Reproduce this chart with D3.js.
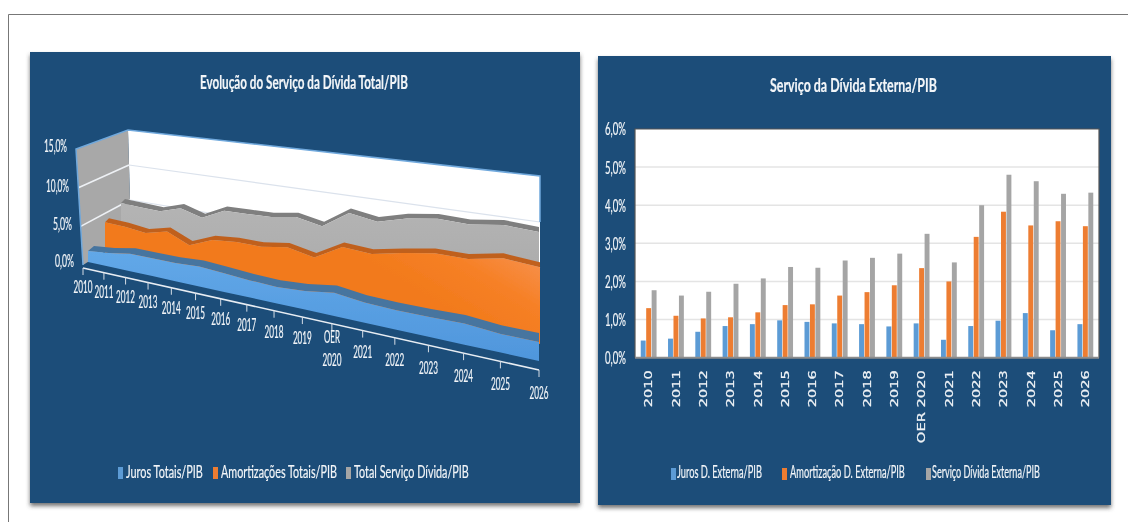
<!DOCTYPE html>
<html lang="pt">
<head>
<meta charset="utf-8">
<script src="https://cdn.jsdelivr.net/npm/d3@7/dist/d3.min.js"></script>
<style>
html,body{margin:0;padding:0;background:#fff;overflow:hidden}
svg{display:block}
text{font-family:Lato,"Open Sans",sans-serif;fill:#f2f5f8}
</style>
</head>
<body>
<svg id="chart" width="1128" height="522"></svg>
<script>
// ---------- data ----------
const years = ["2010","2011","2012","2013","2014","2015","2016","2017","2018","2019","OER 2020","2021","2022","2023","2024","2025","2026"];

const titleTotal = "Evolução do Serviço da Dívida Total/PIB";
const seriesTotalNames = ["Juros Totais/PIB","Amortizações Totais/PIB","Total Serviço Dívida/PIB"];
const jurosTotais = [1.4,1.7,2.2,2.2,2.2,2.4,2.2,2.0,1.9,2.1,2.6,2.2,2.1,2.1,2.2,1.9,1.9];
const amortTotais = [4.1,4.0,3.7,4.4,3.2,4.4,4.7,4.7,5.2,4.6,6.4,6.2,6.9,7.5,7.5,8.2,7.9];
const servicoTotal = [5.4,5.3,5.2,6.1,5.3,6.7,6.8,6.9,7.4,6.8,8.9,8.4,9.3,9.8,9.7,10.2,10.0];
const ticksTotal = [0,5,10,15];

const titleExterna = "Serviço da Dívida Externa/PIB";
const seriesExternaNames = ["Juros D. Externa/PIB","Amortização D. Externa/PIB","Serviço Dívida Externa/PIB"];
const jurosExterna = [0.45,0.5,0.68,0.83,0.88,0.98,0.94,0.9,0.88,0.82,0.9,0.47,0.83,0.97,1.17,0.72,0.88];
const amortExterna = [1.3,1.1,1.03,1.06,1.19,1.38,1.4,1.63,1.72,1.9,2.35,2.0,3.17,3.83,3.47,3.58,3.45];
const servicoExterna = [1.77,1.63,1.73,1.94,2.08,2.38,2.36,2.55,2.62,2.73,3.25,2.5,4.0,4.8,4.63,4.3,4.33];
const ticksExterna = [0,1,2,3,4,5,6];

// ---------- setup ----------
const fmt = v => d3.format(".1f")(v).replace(".", ",") + "%";
const svg = d3.select("#chart");
const defs = svg.append("defs");
const f1 = defs.append("filter").attr("id","soft").attr("x","-5%").attr("y","-5%").attr("width","110%").attr("height","110%");
f1.append("feGaussianBlur").attr("stdDeviation",0.5);
const f2 = defs.append("filter").attr("id","shadow").attr("x","-3%").attr("y","-3%").attr("width","106%").attr("height","108%");
f2.append("feDropShadow").attr("dx",0).attr("dy",3).attr("stdDeviation",2).attr("flood-color","#444").attr("flood-opacity",0.75);
function grad(id, a, b){
  const g = defs.append("linearGradient").attr("id",id).attr("x1",0).attr("x2",0).attr("y1",0).attr("y2",1);
  g.append("stop").attr("offset","0%").attr("stop-color",a);
  g.append("stop").attr("offset","100%").attr("stop-color",b);
}
grad("gBlue","#62a8e8","#4f96dc");
grad("gGray","#b4b4b4","#a6a6a6");
const go = defs.append("linearGradient").attr("id","gOrange").attr("gradientUnits","userSpaceOnUse")
  .attr("x1",560).attr("y1",240).attr("x2",500).attr("y2",340);
go.append("stop").attr("offset","0%").attr("stop-color","#f79a63");
go.append("stop").attr("offset","60%").attr("stop-color","#f68026");
go.append("stop").attr("offset","100%").attr("stop-color","#f27a1c");

const root = svg.append("g").attr("filter","url(#soft)");
const PANEL = "#1f4e79";

root.append("path").attr("d","M8.5,522V14.5H1128").attr("fill","none").attr("stroke","#777").attr("stroke-width",1);
root.append("rect").attr("x",30).attr("y",52).attr("width",550).attr("height",451).attr("fill",PANEL).attr("filter","url(#shadow)");
root.append("rect").attr("x",598).attr("y",56).attr("width",513).attr("height",449).attr("fill",PANEL).attr("filter","url(#shadow)");

function squeeze(node, width){
  return width / node.getComputedTextLength();
}
function label(g, str, x, y, width, size, opts={}){
  const t = g.append("text").attr("font-size",size)
    .attr("text-anchor",opts.anchor||"start").attr("dominant-baseline","middle")
    .attr("font-weight",opts.weight||"normal")
    .attr("stroke","#f2f5f8").attr("stroke-width",opts.stroke||0.2).text(str);
  t.attr("transform",`translate(${x},${y}) scale(${squeeze(t.node(),width)},1)`);
  return t;
}

// ---------- left chart: perspective area chart ----------
const L = root.append("g");
label(L, titleTotal, 200, 84, 208, 19, {weight:"bold"});

const pers = 1.387;
const persp = i => { const u = i/(years.length-1); return u/(u + pers*(1-u)); };
const lerp = (r, f) => d3.scaleLinear().domain([0,1]).range(r)(f);

const wallFront = {x0:83, x15:76, base:265, h:7.73};
const wallBack  = {x0:[131,540], x15:[128,540], base:[235,314], h:[7,9.2]};
const backY = (f,v) => lerp(wallBack.base,f) - v*lerp(wallBack.h,f);
const backX = (f,v) => lerp(wallBack.x0,f) + (lerp(wallBack.x15,f)-lerp(wallBack.x0,f))*v/15;
const frontX = v => d3.scaleLinear().domain([0,15]).range([wallFront.x0,wallFront.x15])(v);
const frontY = v => wallFront.base - v*wallFront.h;

const line = d3.line();
L.append("path").attr("fill","#fff").attr("d", line([[backX(0,15),backY(0,15)],[backX(1,15),backY(1,15)],[backX(1,0),backY(1,0)],[backX(0,0),backY(0,0)]])+"Z");
L.append("path").attr("fill","#a8a8a8").attr("d", line([[frontX(15),frontY(15)],[backX(0,15),backY(0,15)],[backX(0,0),backY(0,0)],[frontX(0),frontY(0)]])+"Z");
ticksTotal.filter(v=>v>0&&v<15).forEach(v=>{
  L.append("path").attr("fill","none").attr("stroke","#eef1f5").attr("stroke-width",1.6)
    .attr("d", line([[frontX(v),frontY(v)],[backX(0,v),backY(0,v)]]));
  L.append("path").attr("fill","none").attr("stroke","#dbe2ec").attr("stroke-width",1.2)
    .attr("d", line([[backX(0,v),backY(0,v)],[backX(1,v),backY(1,v)]]));
});
L.append("path").attr("fill","none").attr("stroke","#6fa8dc").attr("stroke-width",1.5)
  .attr("d", line([[frontX(0),frontY(0)],[frontX(15),frontY(15)],[backX(0,15),backY(0,15)],[backX(1,15),backY(1,15)],[backX(1,10),backY(1,10)]]));

const layers = [
  {values:servicoTotal, face:"url(#gGray)",   cap:"#7f7f7f", x:[121,539], base:[242,326], h:[7.2,9.4], capDx:[4,0], capDy:[-4,-5]},
  {values:amortTotais,  face:"url(#gOrange)", cap:"#c0601f", x:[105,540], base:[253,344], h:[7.5,9.7], capDx:[4,0], capDy:[-4,-5]},
  {values:jurosTotais,  face:"url(#gBlue)",   cap:"#47749f", x:[88,539],  base:[262,361], h:[7.8,10],  capDx:[6,0], capDy:[-5,-9]}
];
layers.forEach(s=>{
  const px = i => lerp(s.x, persp(i));
  const py0 = i => lerp(s.base, persp(i));
  const py = (v,i) => py0(i) - v*lerp(s.h, persp(i));
  L.append("path").attr("fill",s.cap).attr("d", d3.area()
    .x0((v,i)=>px(i)).y0((v,i)=>py(v,i))
    .x1((v,i)=>px(i)+lerp(s.capDx,persp(i))).y1((v,i)=>py(v,i)+lerp(s.capDy,persp(i)))(s.values));
  L.append("path").attr("fill",s.face).attr("d", d3.area()
    .x((v,i)=>px(i)).y0((v,i)=>py0(i)).y1((v,i)=>py(v,i))(s.values));
});

const axisX = i => lerp([83,539], persp(i));
const axisY = i => lerp([268,370], persp(i));
L.append("path").attr("fill","none").attr("stroke","#e8edf3").attr("stroke-width",1.6)
  .attr("d", line([[axisX(0),axisY(0)],[axisX(16),axisY(16)]]));
years.forEach((y,i)=>{
  const f = persp(i), x = axisX(i), yy = axisY(i);
  L.append("path").attr("stroke","#d5dde6").attr("stroke-width",1).attr("d", line([[x,yy],[x,yy+7]]));
  const parts = y.split(" ");
  const ly = yy + lerp([21,25],f);
  if(parts.length===2){
    label(L, parts[0], x, yy+15, 16, 17, {anchor:"middle"});
    label(L, parts[1], x, yy+38, 19, 17, {anchor:"middle"});
  } else {
    label(L, y, x, ly, 19, 17, {anchor:"middle"});
  }
});
const wallLabelX = d3.scaleLinear().domain(ticksTotal).range([74,72,69,67]);
const wallLabelY = d3.scaleLinear().domain(ticksTotal).range([263,226,188,148]);
ticksTotal.forEach(v=>{
  label(L, fmt(v), wallLabelX(v), wallLabelY(v), v>=10?23:19, 17, {anchor:"end"});
});

function legend(g, names, colors, y, swatchX, textX, textEnd, size){
  names.forEach((n,i)=>{
    g.append("rect").attr("x",swatchX[i]).attr("y",y-6).attr("width",5).attr("height",12).attr("fill",colors[i]);
    label(g, n, textX[i], y, textEnd[i]-textX[i], size);
  });
}
legend(L, seriesTotalNames, ["#5b9bd5","#ed7d31","#a5a5a5"], 473, [118,213,346],[126,221,354],[203,337,469],18);

// ---------- right chart: grouped bars ----------
const R = root.append("g");
label(R, titleExterna, 770, 87, 167, 19, {weight:"bold"});

const plot = {l:635, r:1099, t:129, b:357.7};
const x = d3.scaleBand().domain(years).range([plot.l,plot.r]).paddingInner(0.38).paddingOuter(0.19);
const y = d3.scaleLinear().domain([0,6]).range([plot.b,plot.t]);
const inner = d3.scaleBand().domain([0,1,2]).range([0,x.bandwidth()]).padding(0.1);

R.append("rect").attr("x",plot.l).attr("y",plot.t).attr("width",plot.r-plot.l).attr("height",plot.b-plot.t).attr("fill","#fff");
R.selectAll("line.grid").data(ticksExterna.filter(v=>v>0&&v<6)).join("line").attr("class","grid")
  .attr("x1",plot.l).attr("x2",plot.r).attr("y1",d=>y(d)).attr("y2",d=>y(d))
  .attr("stroke","#e4e4e4").attr("stroke-width",1.5);

[jurosExterna, amortExterna, servicoExterna].forEach((vals,k)=>{
  R.append("g").selectAll("rect").data(vals).join("rect")
    .attr("x",(d,i)=>x(years[i])+inner(k))
    .attr("width",inner.bandwidth())
    .attr("y",d=>y(d))
    .attr("height",d=>y(0)-y(d))
    .attr("fill",["#5b9bd5","#ed7d31","#a5a5a5"][k]);
});

R.append("path").attr("fill","none").attr("stroke","#555").attr("stroke-width",1.2)
  .attr("d",`M${plot.l},${plot.b}V${plot.t}H${plot.r}V${plot.b}`);
R.append("line").attr("x1",plot.l).attr("x2",plot.r).attr("y1",plot.b).attr("y2",plot.b).attr("stroke","#8c8c8c").attr("stroke-width",2);

const yAxis = R.append("g").attr("transform",`translate(${plot.l-9},0)`)
  .call(d3.axisLeft(y).tickValues(ticksExterna).tickFormat(fmt).tickSize(0));
yAxis.select(".domain").remove();
yAxis.selectAll("text").attr("font-size",17).style("font-family","Lato").style("fill","#f2f5f8")
  .attr("stroke","#f2f5f8").attr("stroke-width",0.2).attr("x",0).attr("dy","0.35em")
  .attr("transform",function(){ return `scale(${squeeze(this,21)},1)`; });

const xAxis = R.append("g").attr("transform",`translate(0,${plot.b})`)
  .call(d3.axisBottom(x).tickSize(0));
xAxis.select(".domain").remove();
xAxis.selectAll("text")
  .attr("font-size",10.5)
  .style("font-family","'DejaVu Sans'").style("fill","#eef2f6")
  .attr("stroke","#eef2f6").attr("stroke-width",0.25)
  .attr("text-anchor","end").attr("y",null).attr("dy","0.36em")
  .attr("transform",function(d){ return `translate(0,12.5) rotate(-90) scale(${squeeze(this,d.length>4?73:37)},1)`; });

legend(R, seriesExternaNames, ["#5b9bd5","#ed7d31","#a5a5a5"], 474, [671,782,926],[677,790,932],[762,905,1040],16.5);
</script>
</body>
</html>
